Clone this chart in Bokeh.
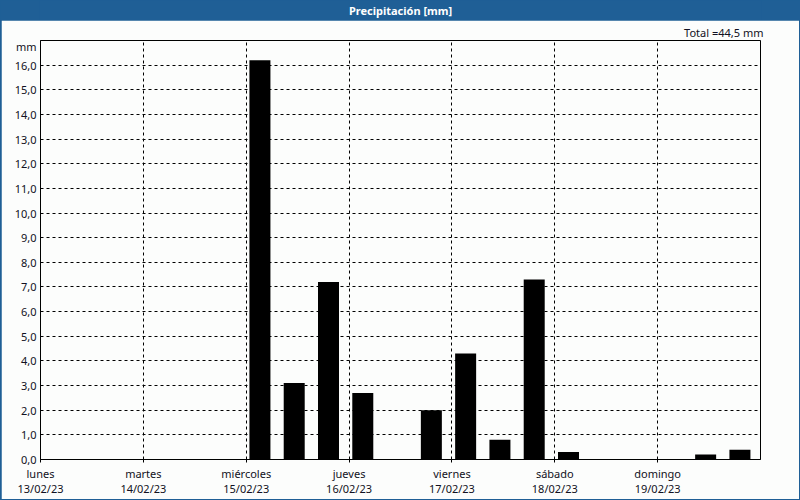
from bokeh.plotting import figure
from bokeh.models import Range1d, FixedTicker, Label
from bokeh.layouts import column
from bokeh.embed import file_html
from bokeh.resources import INLINE

# ---- data ----
title_text = "Precipitación [mm]"
total_text = "Total =44,5 mm"
unit_text = "mm"
# start hour (from Monday 13/02/23 00:00) of each 8-hour interval with rain
start_hours = [48, 56, 64, 72, 88, 96, 104, 112, 120, 152, 160]
precip_mm = [16.2, 3.1, 7.2, 2.7, 2.0, 4.3, 0.8, 7.3, 0.3, 0.2, 0.4]
day_names = ["lunes", "martes", "miércoles", "jueves", "viernes", "sábado", "domingo"]
day_dates = ["13/02/23", "14/02/23", "15/02/23", "16/02/23", "17/02/23", "18/02/23", "19/02/23"]
y_ticks = list(range(0, 17))
unit_pos = 16.77  # where the "mm" unit caption sits on the value axis

BLUE = "#1f5f96"
BG = "#fcfdfc"
FONT = "Noto Sans"
TXT = "#111122"

# ---- title bar ----
top = figure(width=800, height=20, toolbar_location=None, output_backend="svg",
             x_range=Range1d(0, 1), y_range=Range1d(0, 1),
             min_border=0, min_border_left=0, min_border_right=0,
             min_border_top=0, min_border_bottom=0)
top.axis.visible = False
top.grid.visible = False
top.outline_line_color = None
top.background_fill_color = BLUE
top.border_fill_color = BLUE
top.add_layout(Label(x=0.5, y=0.5, text=title_text, text_align="center",
                     text_baseline="middle", text_color="white",
                     text_font=FONT, text_font_size="11px", text_font_style="bold"))

# ---- main chart ----
day_ticks = [24 * i for i in range(7)]
p = figure(width=798, height=479, toolbar_location=None, output_backend="svg",
           x_range=Range1d(0, 168), y_range=Range1d(0, 17),
           min_border_left=39, min_border_right=39, min_border_top=20, min_border_bottom=38,
           margin=(0, 1, 1, 1), title=total_text)
p.background_fill_color = BG
p.border_fill_color = BG
p.outline_line_color = "black"
p.outline_line_width = 1

p.title.align = "right"
p.title.offset = -3
p.title.standoff = 2
p.title.text_font = FONT
p.title.text_font_size = "11px"
p.title.text_font_style = "normal"
p.title.text_color = TXT

p.vbar(x=[h + 3.2 for h in start_hours], width=4.9, top=precip_mm, bottom=0,
       fill_color="black", line_color=None)

# x axis
p.xaxis.ticker = FixedTicker(ticks=day_ticks)
p.xaxis.major_label_overrides = {t: f"{n}\n{d}" for t, n, d in zip(day_ticks, day_names, day_dates)}
p.xaxis.major_label_text_font = FONT
p.xaxis.major_label_text_font_size = "11px"
p.xaxis.major_label_text_color = TXT
p.xaxis.major_label_text_line_height = 1.05
p.xaxis.major_label_standoff = 3
p.xaxis.major_tick_out = 3
p.xaxis.major_tick_in = 0
p.xaxis.minor_tick_out = 0
p.xaxis.minor_tick_in = 0
p.xaxis.axis_line_color = "black"
p.xaxis.major_tick_line_color = "black"

# y axis
p.yaxis.ticker = FixedTicker(ticks=y_ticks + [unit_pos])
overrides = {t: f"{t},0" for t in y_ticks}
overrides[unit_pos] = unit_text
p.yaxis.major_label_overrides = overrides
p.yaxis.major_label_text_font = FONT
p.yaxis.major_label_text_font_size = "11px"
p.yaxis.major_label_text_color = TXT
p.yaxis.major_label_standoff = 4
p.yaxis.major_tick_out = 0
p.yaxis.major_tick_in = 0
p.yaxis.minor_tick_out = 0
p.yaxis.minor_tick_in = 0
p.yaxis.axis_line_color = "black"

# grids
p.xgrid.ticker = FixedTicker(ticks=day_ticks[1:])
p.ygrid.ticker = FixedTicker(ticks=y_ticks[1:])
for g in (p.xgrid, p.ygrid):
    g.grid_line_color = "black"
    g.grid_line_dash = "3 3"
    g.grid_line_width = 1

layout = column(top, p, spacing=0, styles={"background-color": BLUE})
layout.width = 800

open("out.html", "w").write(file_html(layout, INLINE))
